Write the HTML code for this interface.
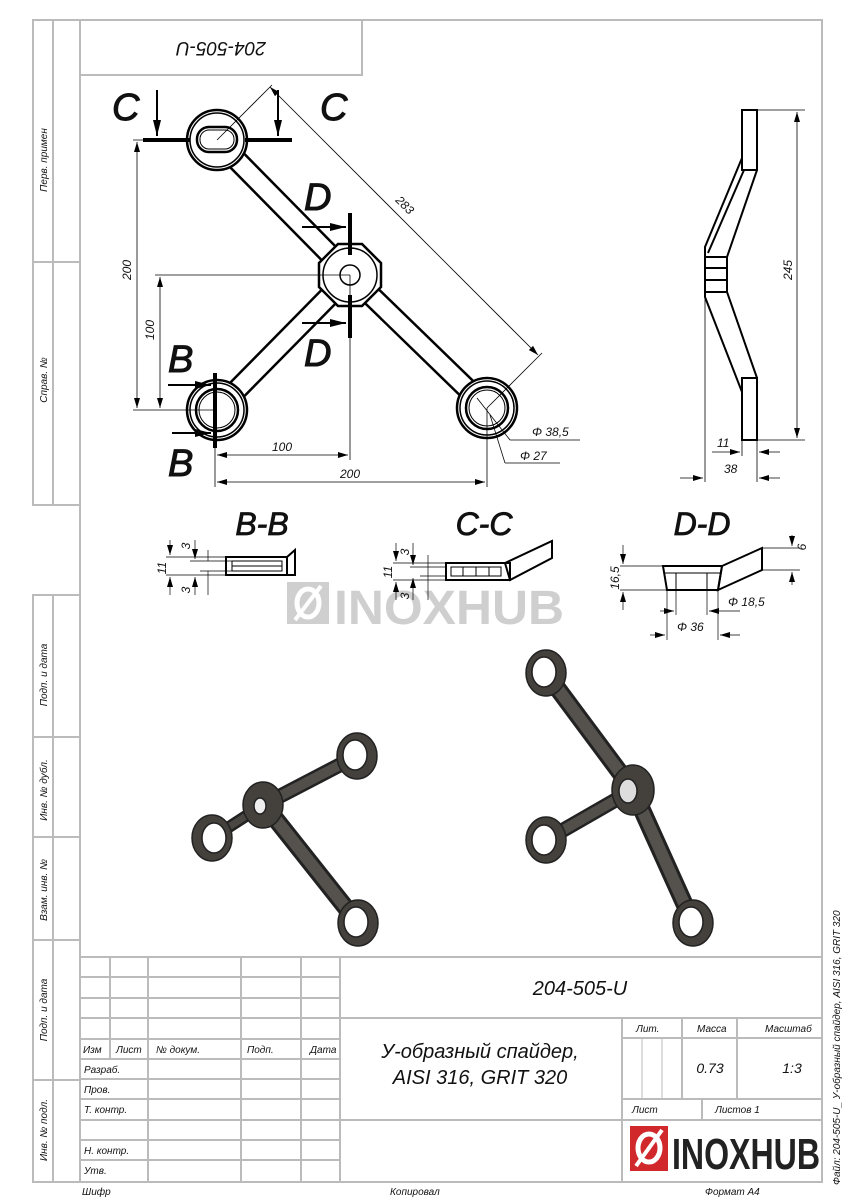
<!DOCTYPE html>
<html><head><meta charset="utf-8"><style>
html,body{margin:0;padding:0;background:#fff;}
svg{display:block;}
text{font-family:"Liberation Sans","Noto Sans CJK SC",sans-serif;font-style:italic;fill:#111;}
.fr{stroke:#bbb;stroke-width:2;fill:none;}
.t{font-size:10px;}
.d{font-size:12px;}
.k{stroke:#000;fill:none;}
</style></head><body>
<svg width="848" height="1200" viewBox="0 0 848 1200" xmlns="http://www.w3.org/2000/svg">
<defs>
<marker id="a" markerWidth="10" markerHeight="6" refX="10" refY="3" orient="auto-start-reverse" markerUnits="userSpaceOnUse"><path d="M0,0 L10,3 L0,6 z" fill="#000"/></marker>
<marker id="b" markerWidth="16" markerHeight="8" refX="16" refY="4" orient="auto" markerUnits="userSpaceOnUse"><path d="M0,0 L16,4 L0,8 z" fill="#000"/></marker>
</defs>
<!-- frame -->
<rect class="fr" x="80" y="20" width="742" height="1162"/>
<rect class="fr" x="33" y="20" width="47" height="485"/>
<line class="fr" x1="53" y1="20" x2="53" y2="505"/>
<line class="fr" x1="33" y1="262" x2="80" y2="262"/>
<rect class="fr" x="33" y="595" width="47" height="587"/>
<line class="fr" x1="53" y1="595" x2="53" y2="1182"/>
<line class="fr" x1="33" y1="737" x2="80" y2="737"/>
<line class="fr" x1="33" y1="837" x2="80" y2="837"/>
<line class="fr" x1="33" y1="940" x2="80" y2="940"/>
<line class="fr" x1="33" y1="1080" x2="80" y2="1080"/>
<g class="t">
<text transform="translate(47,160) rotate(-90)" text-anchor="middle">Перв. примен</text>
<text transform="translate(47,380) rotate(-90)" text-anchor="middle">Справ. №</text>
<text transform="translate(47,675) rotate(-90)" text-anchor="middle">Подп. и дата</text>
<text transform="translate(47,790) rotate(-90)" text-anchor="middle">Инв. № дубл.</text>
<text transform="translate(47,890) rotate(-90)" text-anchor="middle">Взам. инв. №</text>
<text transform="translate(47,1010) rotate(-90)" text-anchor="middle">Подп. и дата</text>
<text transform="translate(47,1130) rotate(-90)" text-anchor="middle">Инв. № подл.</text>
</g>
<rect class="fr" x="80" y="20" width="282" height="55"/>
<text transform="translate(221,42) rotate(180)" text-anchor="middle" font-size="19">204-505-U</text>

<!-- title block -->
<line class="fr" x1="80" y1="957" x2="822" y2="957"/>
<g class="fr">
<line x1="80" y1="977" x2="340" y2="977"/><line x1="80" y1="998" x2="340" y2="998"/>
<line x1="80" y1="1018" x2="822" y2="1018"/><line x1="80" y1="1039" x2="340" y2="1039"/>
<line x1="80" y1="1059" x2="340" y2="1059"/><line x1="80" y1="1079" x2="340" y2="1079"/>
<line x1="80" y1="1099" x2="340" y2="1099"/><line x1="80" y1="1120" x2="822" y2="1120"/>
<line x1="80" y1="1140" x2="340" y2="1140"/><line x1="80" y1="1160" x2="340" y2="1160"/>
<line x1="110" y1="957" x2="110" y2="1059"/>
<line x1="148" y1="957" x2="148" y2="1182"/><line x1="241" y1="957" x2="241" y2="1182"/>
<line x1="301" y1="957" x2="301" y2="1182"/><line x1="340" y1="957" x2="340" y2="1182"/>
<line x1="622" y1="1018" x2="622" y2="1182"/>
<line x1="622" y1="1038" x2="822" y2="1038"/><line x1="622" y1="1099" x2="822" y2="1099"/>
<line x1="682" y1="1018" x2="682" y2="1099"/><line x1="737" y1="1018" x2="737" y2="1099"/>
<line x1="642" y1="1038" x2="642" y2="1099" stroke-width="1"/><line x1="662" y1="1038" x2="662" y2="1099" stroke-width="1"/>
<line x1="702" y1="1099" x2="702" y2="1120"/>
</g>
<g class="t">
<text x="83" y="1053">Изм</text><text x="116" y="1053">Лист</text><text x="156" y="1053">№ докум.</text>
<text x="247" y="1053">Подп.</text><text x="310" y="1053">Дата</text>
<text x="84" y="1073">Разраб.</text><text x="84" y="1093">Пров.</text><text x="84" y="1113">Т. контр.</text>
<text x="84" y="1154">Н. контр.</text><text x="84" y="1174">Утв.</text>
<text x="636" y="1032">Лит.</text><text x="697" y="1032">Масса</text><text x="765" y="1032">Масштаб</text>
<text x="632" y="1113">Лист</text><text x="715" y="1113">Листов 1</text>
<text x="82" y="1195">Шифр</text><text x="390" y="1195">Копировал</text><text x="705" y="1195">Формат А4</text>
</g>
<text x="710" y="1073" font-size="14" text-anchor="middle">0.73</text>
<text x="792" y="1073" font-size="14" text-anchor="middle">1:3</text>
<text x="580" y="995" font-size="20" text-anchor="middle">204-505-U</text>
<text x="480" y="1058" font-size="20" text-anchor="middle">У-образный спайдер,</text>
<text x="480" y="1084" font-size="20" text-anchor="middle">AISI 316, GRIT 320</text>
<text transform="translate(840,1185) rotate(-90)" font-size="10">Файл: 204-505-U_ У-образный спайдер, AISI 316, GRIT 320</text>
<!-- logo -->
<rect x="630" y="1126" width="38" height="45" fill="#d0282b"/>
<ellipse cx="649" cy="1148" rx="11" ry="14" fill="none" stroke="#fff" stroke-width="5"/>
<line x1="636" y1="1166" x2="662" y2="1130" stroke="#fff" stroke-width="4"/>
<text x="672" y="1169" font-size="44" font-weight="bold" style="font-style:normal;fill:#222" textLength="148" lengthAdjust="spacingAndGlyphs">INOXHUB</text>

<!-- watermark -->
<rect x="287" y="582" width="42" height="42" fill="#cfcfcf"/>
<ellipse cx="308" cy="603" rx="11" ry="14" fill="none" stroke="#fff" stroke-width="5"/>
<line x1="295" y1="620" x2="321" y2="586" stroke="#fff" stroke-width="4"/>
<text x="334" y="624" font-size="48" font-weight="bold" style="font-style:normal;fill:#cfcfcf" textLength="230" lengthAdjust="spacingAndGlyphs">INOXHUB</text>

<!-- main plan view -->
<g stroke-linecap="butt">
<line x1="217" y1="140" x2="350" y2="275" stroke="#000" stroke-width="22"/>
<line x1="217" y1="140" x2="350" y2="275" stroke="#fff" stroke-width="17"/>
<line x1="350" y1="275" x2="487" y2="408" stroke="#000" stroke-width="22"/>
<line x1="350" y1="275" x2="487" y2="408" stroke="#fff" stroke-width="17"/>
<line x1="350" y1="275" x2="217" y2="410" stroke="#000" stroke-width="22"/>
<line x1="350" y1="275" x2="217" y2="410" stroke="#fff" stroke-width="17"/>
</g>
<g fill="#fff" stroke="#000">
<circle cx="217" cy="140" r="30" stroke-width="2.5"/><circle cx="217" cy="140" r="27" stroke-width="1.5"/>
<rect x="197" y="127" width="40" height="25" rx="12" stroke-width="2.5"/><rect x="200" y="130" width="34" height="19" rx="9" stroke-width="1"/>
<polygon points="338,244 362,244 381,263 381,287 362,306 338,306 319,287 319,263" stroke-width="2.5"/>
<circle cx="350" cy="275" r="27" stroke-width="1.5"/><circle cx="350" cy="275" r="10" stroke-width="1.5"/>
<circle cx="217" cy="410" r="30" stroke-width="2.5"/><circle cx="217" cy="410" r="27" stroke-width="1.5"/>
<circle cx="217" cy="410" r="21" stroke-width="2.5"/><circle cx="217" cy="410" r="18" stroke-width="1"/>
<circle cx="487" cy="408" r="30" stroke-width="2.5"/><circle cx="487" cy="408" r="27" stroke-width="1.5"/>
<circle cx="487" cy="408" r="21" stroke-width="2.5"/><circle cx="487" cy="408" r="18" stroke-width="1"/>
</g>
<!-- section lines -->
<g stroke="#000" stroke-width="4">
<line x1="143" y1="140" x2="190" y2="140"/><line x1="245" y1="140" x2="292" y2="140"/>
<line x1="350" y1="213" x2="350" y2="255"/><line x1="350" y1="295" x2="350" y2="338"/>
<line x1="215" y1="373" x2="215" y2="448"/>
</g>
<g stroke="#000" stroke-width="2">
<line x1="157" y1="90" x2="157" y2="136" marker-end="url(#b)"/>
<line x1="278" y1="90" x2="278" y2="136" marker-end="url(#b)"/>
<line x1="302" y1="227" x2="346" y2="227" marker-end="url(#b)"/>
<line x1="302" y1="323" x2="346" y2="323" marker-end="url(#b)"/>
<line x1="168" y1="385" x2="211" y2="385" marker-end="url(#b)"/>
<line x1="172" y1="433" x2="211" y2="433" marker-end="url(#b)"/>
</g>
<g font-size="38" style="stroke:#111;stroke-width:1">
<text x="112" y="120">C</text><text x="320" y="120">C</text>
<text x="304" y="210">D</text><text x="304" y="366">D</text>
<text x="168" y="372">B</text><text x="168" y="476">B</text>
</g>
<!-- dims -->
<g stroke="#000" stroke-width="0.8" fill="none">
<line x1="133" y1="140" x2="190" y2="140"/>
<line x1="133" y1="410" x2="215" y2="410"/>
<line x1="155" y1="275" x2="350" y2="275"/>
<line x1="137" y1="142" x2="137" y2="408" marker-start="url(#a)" marker-end="url(#a)"/>
<line x1="160" y1="277" x2="160" y2="408" marker-start="url(#a)" marker-end="url(#a)"/>
<line x1="350" y1="275" x2="350" y2="460"/>
<line x1="215" y1="410" x2="215" y2="487"/>
<line x1="487" y1="408" x2="487" y2="487"/>
<line x1="217" y1="455" x2="348" y2="455" marker-start="url(#a)" marker-end="url(#a)"/>
<line x1="217" y1="482" x2="485" y2="482" marker-start="url(#a)" marker-end="url(#a)"/>
<line x1="217" y1="140" x2="272" y2="85"/>
<line x1="487" y1="408" x2="542" y2="353"/>
<line x1="270" y1="87" x2="538" y2="355" marker-start="url(#a)" marker-end="url(#a)"/>
<line x1="477" y1="398" x2="510" y2="440"/><line x1="510" y1="440" x2="580" y2="440"/>
<line x1="490" y1="415" x2="505" y2="463"/><line x1="505" y1="463" x2="560" y2="463"/>
</g>
<g class="d">
<text transform="translate(131,270) rotate(-90)" text-anchor="middle">200</text>
<text transform="translate(154,330) rotate(-90)" text-anchor="middle">100</text>
<text x="282" y="451" text-anchor="middle">100</text>
<text x="350" y="478" text-anchor="middle">200</text>
<text transform="translate(402,208) rotate(45)" text-anchor="middle">283</text>
<text x="532" y="436">Φ 38,5</text>
<text x="520" y="460">Φ 27</text>
</g>

<!-- side view -->
<g stroke="#000" stroke-width="2" fill="none">
<rect x="742" y="110" width="15" height="60"/>
<rect x="742" y="378" width="15" height="62"/>
<polyline points="742,158 705,247 705,297 742,392"/>
<polyline points="744,170 708,253"/>
<polyline points="757,170 727,257 727,292 757,378"/>
<line x1="742" y1="170" x2="757" y2="170"/><line x1="742" y1="378" x2="757" y2="378"/>
<line x1="705" y1="257" x2="727" y2="257"/><line x1="705" y1="268" x2="727" y2="268"/>
<line x1="705" y1="280" x2="727" y2="280"/><line x1="705" y1="292" x2="727" y2="292"/>
</g>
<g stroke="#000" stroke-width="0.8" fill="none">
<line x1="757" y1="110" x2="805" y2="110"/><line x1="757" y1="440" x2="805" y2="440"/>
<line x1="797" y1="112" x2="797" y2="438" marker-start="url(#a)" marker-end="url(#a)"/>
<line x1="705" y1="297" x2="705" y2="482"/><line x1="742" y1="440" x2="742" y2="456"/><line x1="757" y1="440" x2="757" y2="482"/>
<line x1="712" y1="452" x2="740" y2="452" marker-end="url(#a)"/><line x1="780" y1="452" x2="759" y2="452" marker-end="url(#a)"/>
<line x1="680" y1="478" x2="703" y2="478" marker-end="url(#a)"/><line x1="780" y1="478" x2="759" y2="478" marker-end="url(#a)"/>
</g>
<g class="d">
<text transform="translate(792,270) rotate(-90)" text-anchor="middle">245</text>
<text x="717" y="447">11</text>
<text x="724" y="473">38</text>
</g>

<!-- sections -->
<g font-size="32" style="stroke:#111;stroke-width:0.8"><text x="262" y="535" text-anchor="middle">B-B</text><text x="484" y="535" text-anchor="middle">C-C</text><text x="702" y="535" text-anchor="middle">D-D</text></g>
<g stroke="#000" stroke-width="2" fill="none">
<rect x="226" y="557" width="61" height="18"/><rect x="232" y="561" width="50" height="10" stroke-width="1"/>
<line x1="232" y1="566" x2="282" y2="566" stroke-width="1"/>
<polygon points="287,557 295,550 295,575 287,575"/>
<rect x="446" y="563" width="64" height="17"/><rect x="451" y="567" width="50" height="9" stroke-width="1"/>
<line x1="463" y1="567" x2="463" y2="576" stroke-width="1"/><line x1="476" y1="567" x2="476" y2="576" stroke-width="1"/><line x1="489" y1="567" x2="489" y2="576" stroke-width="1"/>
<polygon points="505,563 552,541 552,558 510,580"/>
<polygon points="663,566 722,566 718,590 667,590"/>
<line x1="665" y1="573" x2="720" y2="573" stroke-width="1"/>
<line x1="676" y1="573" x2="676" y2="590" stroke-width="1"/><line x1="707" y1="573" x2="707" y2="590" stroke-width="1"/>
<polygon points="722,566 762,548 762,570 718,590"/>
</g>
<g stroke="#000" stroke-width="0.7" fill="none">
<line x1="166" y1="557" x2="226" y2="557"/><line x1="166" y1="575" x2="226" y2="575"/>
<line x1="190" y1="561" x2="232" y2="561"/><line x1="200" y1="571" x2="232" y2="571"/>
<line x1="170" y1="540" x2="170" y2="555" marker-end="url(#a)"/><line x1="170" y1="595" x2="170" y2="577" marker-end="url(#a)"/>
<line x1="195" y1="540" x2="195" y2="559" marker-end="url(#a)"/><line x1="195" y1="595" x2="195" y2="577" marker-end="url(#a)"/>
<line x1="208" y1="550" x2="208" y2="561"/><line x1="208" y1="571" x2="208" y2="595"/>
<line x1="393" y1="563" x2="446" y2="563"/><line x1="393" y1="580" x2="446" y2="580"/>
<line x1="410" y1="567" x2="446" y2="567"/><line x1="420" y1="576" x2="446" y2="576"/>
<line x1="396" y1="543" x2="396" y2="561" marker-end="url(#a)"/><line x1="396" y1="600" x2="396" y2="582" marker-end="url(#a)"/>
<line x1="413" y1="543" x2="413" y2="565" marker-end="url(#a)"/><line x1="413" y1="600" x2="413" y2="578" marker-end="url(#a)"/>
<line x1="428" y1="555" x2="428" y2="600"/>
<line x1="620" y1="566" x2="663" y2="566"/><line x1="620" y1="590" x2="667" y2="590"/>
<line x1="623" y1="545" x2="623" y2="564" marker-end="url(#a)"/><line x1="623" y1="610" x2="623" y2="592" marker-end="url(#a)"/>
<line x1="762" y1="548" x2="800" y2="548"/><line x1="762" y1="570" x2="800" y2="570"/>
<line x1="792" y1="535" x2="792" y2="546" marker-end="url(#a)"/><line x1="792" y1="585" x2="792" y2="572" marker-end="url(#a)"/>
<line x1="676" y1="590" x2="676" y2="615"/><line x1="707" y1="590" x2="707" y2="615"/>
<line x1="667" y1="590" x2="667" y2="640"/><line x1="718" y1="590" x2="718" y2="640"/>
<line x1="660" y1="611" x2="674" y2="611" marker-end="url(#a)"/><line x1="740" y1="611" x2="709" y2="611" marker-end="url(#a)"/>
<line x1="650" y1="635" x2="665" y2="635" marker-end="url(#a)"/><line x1="740" y1="635" x2="720" y2="635" marker-end="url(#a)"/>
</g>
<g class="d">
<text transform="translate(166,568) rotate(-90)" text-anchor="middle">11</text>
<text transform="translate(190,546) rotate(-90)" text-anchor="middle">3</text>
<text transform="translate(190,590) rotate(-90)" text-anchor="middle">3</text>
<text transform="translate(392,572) rotate(-90)" text-anchor="middle">11</text>
<text transform="translate(409,552) rotate(-90)" text-anchor="middle">3</text>
<text transform="translate(409,596) rotate(-90)" text-anchor="middle">3</text>
<text transform="translate(619,578) rotate(-90)" text-anchor="middle">16,5</text>
<text transform="translate(806,547) rotate(-90)" text-anchor="middle">6</text>
<text x="728" y="606">Φ 18,5</text>
<text x="677" y="631">Φ 36</text>
</g>

<!-- 3D views -->
<g stroke-linecap="round" fill="none">
<line x1="212" y1="838" x2="263" y2="805" stroke="#222" stroke-width="12"/>
<line x1="212" y1="838" x2="263" y2="805" stroke="#4a4743" stroke-width="7"/>
<line x1="263" y1="805" x2="357" y2="756" stroke="#222" stroke-width="15"/>
<line x1="263" y1="805" x2="357" y2="756" stroke="#524f4b" stroke-width="10"/>
<line x1="270" y1="812" x2="358" y2="923" stroke="#222" stroke-width="18"/>
<line x1="270" y1="812" x2="358" y2="923" stroke="#55524d" stroke-width="12"/>
<line x1="546" y1="673" x2="633" y2="790" stroke="#222" stroke-width="18"/>
<line x1="546" y1="673" x2="633" y2="790" stroke="#55524d" stroke-width="12"/>
<line x1="633" y1="790" x2="546" y2="840" stroke="#222" stroke-width="15"/>
<line x1="633" y1="790" x2="546" y2="840" stroke="#524f4b" stroke-width="10"/>
<line x1="633" y1="790" x2="693" y2="923" stroke="#222" stroke-width="18"/>
<line x1="633" y1="790" x2="693" y2="923" stroke="#55524d" stroke-width="12"/>
</g>
<g stroke="#222" stroke-width="1.5">
<ellipse cx="212" cy="838" rx="20" ry="23" fill="#44413d"/><ellipse cx="214" cy="838" rx="12" ry="15" fill="#fff"/>
<ellipse cx="357" cy="756" rx="20" ry="23" fill="#44413d"/><ellipse cx="355" cy="755" rx="12" ry="15" fill="#fff"/>
<ellipse cx="358" cy="923" rx="20" ry="23" fill="#44413d"/><ellipse cx="356" cy="922" rx="12" ry="15" fill="#fff"/>
<ellipse cx="263" cy="805" rx="20" ry="23" fill="#44413d"/><ellipse cx="260" cy="806" rx="6" ry="8" fill="#eee"/>
<ellipse cx="546" cy="673" rx="20" ry="23" fill="#44413d"/><ellipse cx="544" cy="672" rx="12" ry="15" fill="#fff"/>
<ellipse cx="546" cy="840" rx="20" ry="23" fill="#44413d"/><ellipse cx="544" cy="840" rx="12" ry="15" fill="#fff"/>
<ellipse cx="693" cy="923" rx="20" ry="23" fill="#44413d"/><ellipse cx="691" cy="922" rx="12" ry="15" fill="#fff"/>
<ellipse cx="633" cy="790" rx="21" ry="25" fill="#44413d"/><ellipse cx="628" cy="791" rx="9" ry="12" fill="#ddd"/>
</g>
</svg>
</body></html>
